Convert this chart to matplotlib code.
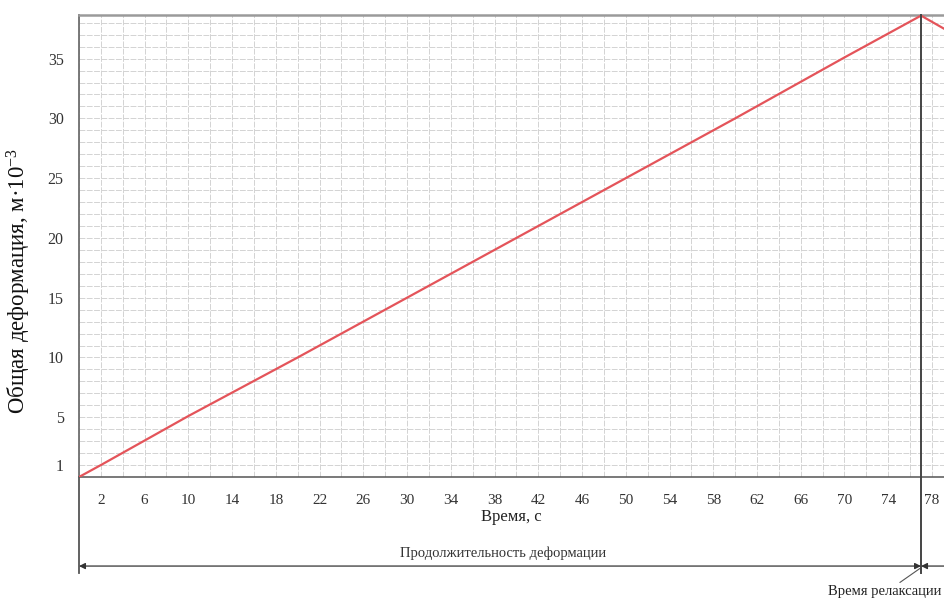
import matplotlib
matplotlib.use("Agg")
import matplotlib.pyplot as plt
from matplotlib.ticker import MultipleLocator, FixedLocator

plt.rcParams["font.family"] = ["Liberation Serif", "DejaVu Serif"]
plt.rcParams["mathtext.fontset"] = "custom"
plt.rcParams["mathtext.rm"] = "Liberation Serif"
plt.rcParams["mathtext.it"] = "Liberation Serif:italic"

# Loading ramp followed by the start of relaxation
time_s = [0, 2, 10, 20, 30, 40, 50, 60, 70, 77.0, 79.3]
deformation = [0, 1.0, 5.1, 10.0, 15.0, 20.0, 25.0, 30.0, 35.1, 38.6, 37.4]

x_ticks = list(range(2, 79, 4))
y_ticks = [1, 5, 10, 15, 20, 25, 30, 35]

t_peak = 77.0
x_max = 79.1
y_max = 38.65

W, H = 944, 601
fig = plt.figure(figsize=(W / 100, H / 100), dpi=100)
ax = fig.add_axes([79 / W, 1 - 477 / H, (W - 79) / W, (477 - 15) / H])

ax.set_xlim(0, x_max)
ax.set_ylim(0, y_max)

ax.xaxis.set_major_locator(FixedLocator(x_ticks))
ax.yaxis.set_major_locator(FixedLocator(y_ticks))
ax.xaxis.set_minor_locator(MultipleLocator(2))
ax.yaxis.set_minor_locator(MultipleLocator(1))

grid_style = dict(color="#d3d3d3", linestyle=(0, (6, 1.5)), linewidth=0.7)
ax.grid(True, which="both", axis="both", **grid_style)
ax.set_axisbelow(True)

ax.tick_params(which="both", length=0)
ax.tick_params(axis="x", labelsize=11, pad=12, colors="#333333")
ax.tick_params(axis="y", labelsize=11.5, pad=11, colors="#333333")

ax.spines["right"].set_visible(False)
ax.spines["top"].set_color("#9a9a9a")
ax.spines["top"].set_linewidth(1.8)
ax.spines["left"].set_color("#6e6e6e")
ax.spines["left"].set_linewidth(1.3)
ax.spines["bottom"].set_color("#555555")
ax.spines["bottom"].set_linewidth(1.1)

ax.plot(time_s, deformation, color="#e4545a", linewidth=1.6, zorder=3)

ax.set_xlabel("Время, с", fontsize=12, labelpad=2, color="#222222")
ax.set_ylabel("Общая деформация, м·10$^{-3}$", fontsize=16.5,
              color="#111111")
ax.yaxis.set_label_coords(-0.053, 0.425)

# Dimension lines below the axis
y_dim = -7.45
y_end = -8.0
ax.plot([0, 0], [0, y_end], color="#555555", lw=1.3, clip_on=False)
ax.plot([t_peak, t_peak], [y_max, y_end], color="#444444", lw=1.4,
        clip_on=False, zorder=4)

ax.annotate("", xy=(0, y_dim), xytext=(t_peak, y_dim),
            xycoords="data", annotation_clip=False,
            arrowprops=dict(arrowstyle="<|-|>", color="#333333", lw=0.9,
                            mutation_scale=9, shrinkA=0, shrinkB=0))
ax.annotate("", xy=(t_peak, y_dim), xytext=(x_max + 1.0, y_dim),
            xycoords="data", annotation_clip=False,
            arrowprops=dict(arrowstyle="-|>", color="#333333", lw=0.9,
                            mutation_scale=9, shrinkA=0, shrinkB=0))

ax.text(38.8, -6.4, "Продолжительность деформации", fontsize=10.5,
        ha="center", va="center", color="#333333", clip_on=False)

ax.annotate("Время релаксации", xy=(t_peak - 0.1, y_dim - 0.2),
            xytext=(x_max - 0.25, -9.6), ha="right", va="center",
            fontsize=10.5, color="#222222", annotation_clip=False,
            arrowprops=dict(arrowstyle="-", color="#555555", lw=0.8,
                            shrinkA=0, shrinkB=0,
                            relpos=(0.6, 1.0)))

fig.savefig("out.png", dpi=100)
